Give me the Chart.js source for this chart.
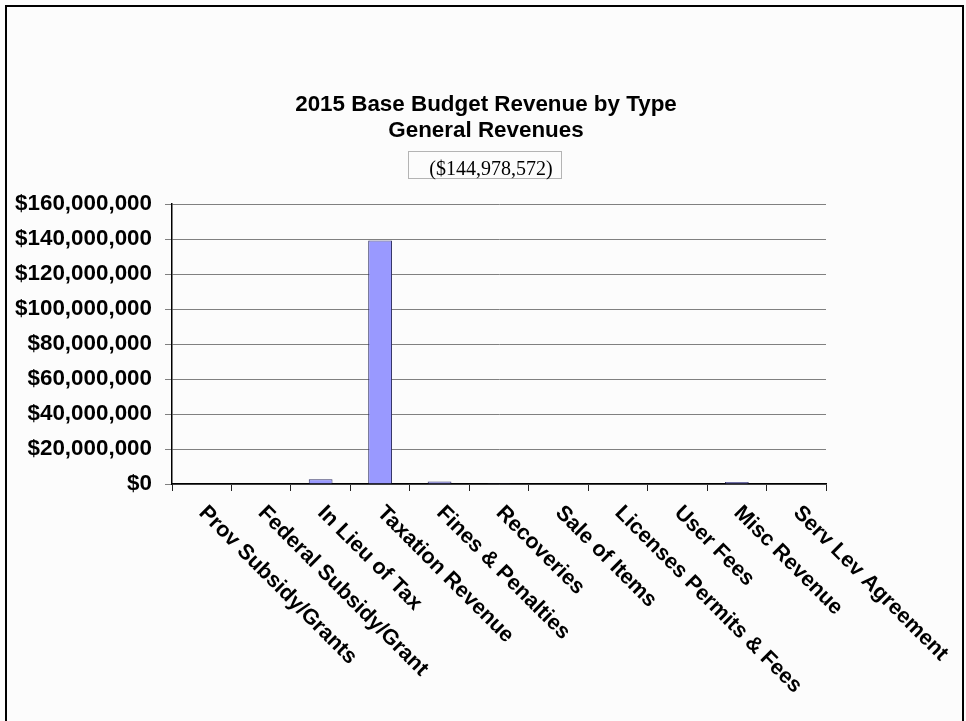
<!DOCTYPE html>
<html>
<head>
<meta charset="utf-8">
<script src="https://cdn.jsdelivr.net/npm/chart.js@4/dist/chart.umd.min.js"></script>
<style>
  html, body { margin: 0; padding: 0; background: #fcfcfc; overflow: hidden; }
  #frame {
    position: absolute; left: 5px; top: 5px; width: 959px; height: 800px;
    box-sizing: border-box; border: 2px solid #000; border-bottom: none;
  }
  #c { position: absolute; left: 0; top: 0; }
</style>
</head>
<body>
<div id="frame"></div>
<canvas id="c" width="966" height="721"></canvas>
<script>
// Revenue categories and 2015 base budget amounts (dollars)
const categories = [
  'Prov Subsidy/Grants', 'Federal Subsidy/Grant', 'In Lieu of Tax', 'Taxation Revenue',
  'Fines & Penalties', 'Recoveries', 'Sale of Items', 'Licenses Permits & Fees',
  'User Fees', 'Misc Revenue', 'Serv Lev Agreement'
];
const revenue = [0, 0, 2700000, 139178572, 1500000, 500000, 0, 0, 0, 1100000, 0];
const titleLines = ['2015 Base Budget Revenue by Type', 'General Revenues'];
const totalLabel = '($144,978,572)';
const yTicks = { min: 0, max: 160000000, step: 20000000 };

const SANS = '"Liberation Sans", Arial, sans-serif';
const SERIF = '"Liberation Serif", "Times New Roman", serif';

// Titles, total box and slanted category labels
const decorations = {
  id: 'decorations',
  afterDraw(chart) {
    const ctx = chart.ctx;
    ctx.save();
    ctx.fillStyle = '#000';
    ctx.textAlign = 'center';
    ctx.textBaseline = 'alphabetic';
    ctx.font = 'bold 22.4px ' + SANS;
    ctx.fillText(titleLines[0], 486, 111);
    ctx.fillText(titleLines[1], 486, 137);

    ctx.strokeStyle = '#b4b4b4';
    ctx.lineWidth = 1;
    ctx.strokeRect(408.5, 151.5, 153, 27);
    ctx.font = '20px ' + SERIF;
    ctx.fillText(totalLabel, 491, 175);

    const xs = chart.scales.x;
    ctx.font = 'bold 21.6px ' + SANS;
    ctx.textAlign = 'left';
    ctx.textBaseline = 'top';
    categories.forEach((label, i) => {
      const x = xs.getPixelForValue(i) + 8;
      ctx.save();
      ctx.translate(x, xs.top + 18);
      ctx.rotate(Math.PI / 4);
      ctx.fillText(label, 0, 0);
      ctx.restore();
    });
    ctx.restore();
  }
};

new Chart(document.getElementById('c'), {
  type: 'bar',
  data: {
    labels: categories,
    datasets: [{
      data: revenue,
      backgroundColor: '#9999ff',
      borderColor: '#333366',
      borderWidth: 1,
      barPercentage: 0.4,
      categoryPercentage: 1
    }]
  },
  options: {
    responsive: false,
    animation: false,
    layout: { padding: { left: 0, right: 140, top: 204, bottom: 227 } },
    plugins: { legend: { display: false }, tooltip: { enabled: false } },
    scales: {
      x: {
        afterFit(scale) { scale.height = 10; },
        ticks: { display: false },
        grid: {
          offset: true,
          drawOnChartArea: false,
          drawTicks: true,
          tickLength: 7,
          color: '#222'
        },
        border: { display: true, color: '#000', width: 1.5 }
      },
      y: {
        min: yTicks.min,
        max: yTicks.max,
        afterFit(scale) { scale.width = 172; },
        ticks: {
          stepSize: yTicks.step,
          padding: 13,
          color: '#000',
          font: { family: SANS, size: 22.4, weight: 'bold' },
          callback: v => '$' + Number(v).toLocaleString('en-US')
        },
        grid: { color: '#808080', lineWidth: 1, tickLength: 7 },
        border: { display: true, color: '#000', width: 1.5 }
      }
    }
  },
  plugins: [decorations]
});
</script>
</body>
</html>
